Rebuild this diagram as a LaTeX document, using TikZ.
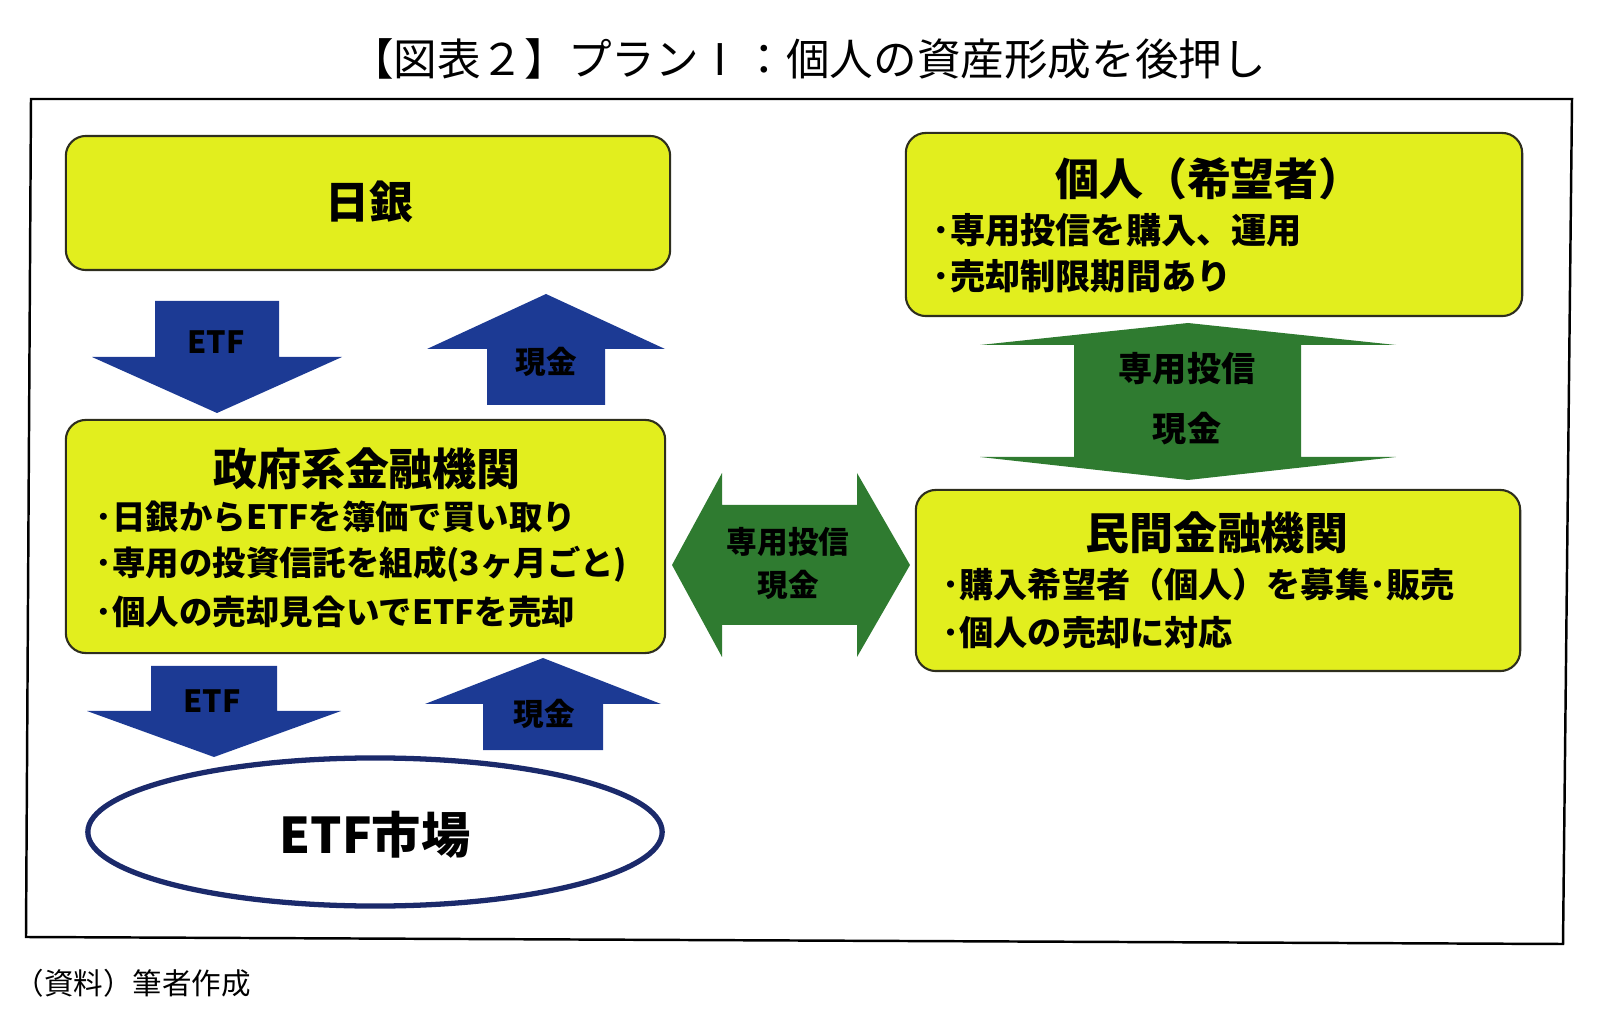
\documentclass[tikz,border=0pt]{standalone}
\usepackage{fontspec}
\setmainfont{Noto Sans CJK JP}
\usepackage{tikz}
\usetikzlibrary{positioning,shapes.geometric}
\definecolor{boxfill}{HTML}{E2EE1E}
\definecolor{boxedge}{HTML}{2E2E1E}
\definecolor{flowblue}{HTML}{1C3A94}
\definecolor{flowgreen}{HTML}{2F7B30}
\definecolor{mktedge}{HTML}{1B2A6B}
% block arrow: colour, centre x, start y, head y, tip y, half shaft, half head
\newcommand{\fatarrow}[7]{%
  \fill[#1] ({#2-#6},#3) -- ({#2+#6},#3) -- ({#2+#6},#4) -- ({#2+#7},#4) -- (#2,#5)
    -- ({#2-#7},#4) -- ({#2-#6},#4) -- cycle;
}
\newcommand{\sizedfont}[1]{\fontsize{#1}{#1}\selectfont}

\begin{document}
\begin{tikzpicture}[x=0.01cm,y=-0.01cm,
  ybox/.style={draw=boxedge,line width=0.6pt,fill=boxfill,rounded corners=0.2cm,inner sep=0pt},
  boxhead/.style={font=\sizedfont{12.5}\bfseries,inner sep=0pt},
  bulletline/.style={font=\sizedfont{10}\bfseries,inner sep=0pt,anchor=west},
  arrowlbl/.style={font=\sizedfont{8.7}\bfseries,inner sep=0pt},
  duolbl/.style={font=\sizedfont{9.7}\bfseries,inner sep=0pt}]
  \useasboundingbox (0,0) rectangle (1600,1028);
  % title and frame
  \node[font=\sizedfont{12.4}] (title) at (808,59) {【図表２】プランⅠ：個人の資産形成を後押し};
  \draw[line width=0.7pt] (31,99) -- (1572,99) -- (1563,944) -- (26,937) -- cycle;
  \node[font=\sizedfont{8.4},anchor=west,inner sep=0pt] (src) at (14,983) {（資料）筆者作成};
  % boxes
  \node[ybox,minimum width=6.04cm,minimum height=1.34cm] (boj) at (368,203) {};
  \node[ybox,minimum width=5.99cm,minimum height=2.33cm] (gov) at (365.5,536.5) {};
  \node[ybox,minimum width=6.16cm,minimum height=1.83cm] (ind) at (1214,224.5) {};
  \node[ybox,minimum width=6.04cm,minimum height=1.81cm] (prv) at (1218,580.5) {};
  \node[draw=mktedge,line width=1.5pt,ellipse,minimum width=5.74cm,minimum height=1.48cm,inner sep=0pt] (mkt) at (375,832) {};
  % box texts
  \node[boxhead] (bojt) at (369,202) {日銀};
  \node[boxhead] (govt) at (367,469) {政府系金融機関};
  \node[bulletline,font=\sizedfont{9.5}\bfseries] (gov1) at (95,517) {･日銀からETFを簿価で買い取り};
  \node[bulletline,font=\sizedfont{9.5}\bfseries] (gov2) at (95,564) {･専用の投資信託を組成(3ヶ月ごと)};
  \node[bulletline,font=\sizedfont{9.5}\bfseries] (gov3) at (95,612) {･個人の売却見合いでETFを売却};
  \node[boxhead] (indt) at (1209,179) {個人（希望者）};
  \node[bulletline] (ind1) at (932,230) {･専用投信を購入、運用};
  \node[bulletline] (ind2) at (932,276) {･売却制限期間あり};
  \node[boxhead] (prvt) at (1217,533) {民間金融機関};
  \node[bulletline,font=\sizedfont{9.7}\bfseries] (prv1) at (942,585) {･購入希望者（個人）を募集･販売};
  \node[bulletline,font=\sizedfont{9.7}\bfseries] (prv2) at (942,633) {･個人の売却に対応};
  \node[font=\sizedfont{14}\bfseries,inner sep=0pt] (mktt) at (375,835) {ETF市場};
  % blue arrows
  \fatarrow{flowblue}{217}{301}{357}{413}{62}{125}
  \fatarrow{flowblue}{546}{405}{349}{294}{59}{119}
  \fatarrow{flowblue}{214}{666}{711}{757}{63}{127}
  \fatarrow{flowblue}{543}{750}{704}{658}{60}{118}
  \node[arrowlbl] (etf1) at (216,342) {ETF};
  \node[arrowlbl] (cash1) at (546,362) {現金};
  \node[arrowlbl] (etf2) at (212,701) {ETF};
  \node[arrowlbl] (cash2) at (544,714) {現金};
  % green arrows
  \fill[flowgreen] (672,565) -- (722,473) -- (722,505) -- (857,505) -- (857,473) -- (910,565)
    -- (857,657) -- (857,625) -- (722,625) -- (722,657) -- cycle;
  \fill[flowgreen] (1188,323) -- (1396,345) -- (1301,345) -- (1301,457) -- (1396,457) -- (1188,480)
    -- (980,457) -- (1074,457) -- (1074,345) -- (980,345) -- cycle;
  \node[arrowlbl] (fundh) at (788,542) {専用投信};
  \node[arrowlbl] (cashh) at (788,585) {現金};
  \node[duolbl] (fundv) at (1187,369) {専用投信};
  \node[duolbl] (cashv) at (1187,429) {現金};
\end{tikzpicture}
\end{document}
